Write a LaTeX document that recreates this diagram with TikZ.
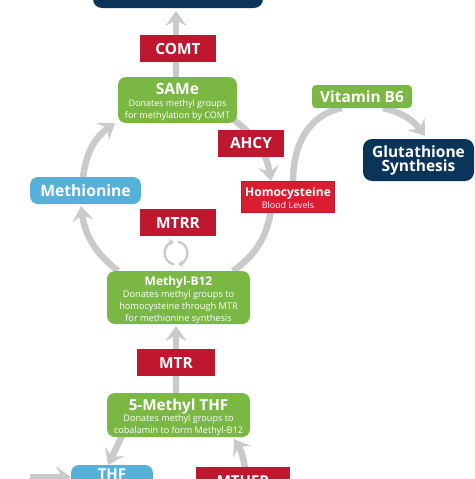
\documentclass[tikz,border=0pt]{standalone}
\usepackage{fontspec}
\setmainfont{Open Sans}
\usetikzlibrary{arrows.meta}
\definecolor{grn}{HTML}{7AB743}
\definecolor{blu}{HTML}{56B0D8}
\definecolor{enz}{HTML}{BF1730}
\definecolor{hcy}{HTML}{D91E32}
\definecolor{nvy}{HTML}{0B3558}
\definecolor{gry}{HTML}{C9CACC}
\newcommand{\fs}[2]{\fontsize{#1}{#2}\selectfont}
\tikzset{
 x=1pt,y=-1pt,
 box/.style={inner sep=0pt,text=white,align=center,anchor=center},
 enzyme/.style={box,fill=enz,font=\fs{15.4}{16}\bfseries},
 greenbox/.style={box,fill=grn,rounded corners=8pt},
 bluebox/.style={box,fill=blu,rounded corners=8pt,font=\fs{15.7}{17}\bfseries},
 navybox/.style={box,fill=nvy,rounded corners=9pt,font=\fs{15.5}{14}\bfseries},
 arr/.style={draw=gry,line width=6.5pt,-{Stealth[length=15pt,width=21pt,inset=6pt]}},
 plain/.style={draw=gry,line width=6.5pt},
 iconarc/.style={draw=gry,line width=2.4pt,-{Stealth[length=5pt,width=7.5pt,inset=1.5pt]}},
}
\begin{document}
\begin{tikzpicture}
\clip (0,0) rectangle (474,479);
% coordinates of free connector ends
\coordinate (topend) at (176,11);
\coordinate (vbL) at (342,108);
\coordinate (vbR) at (383,108);
\coordinate (hT) at (293,182);
\coordinate (gT) at (425,136);
\coordinate (sL) at (115,123);
\coordinate (sR) at (234,120);
\coordinate (hA) at (271,181);
\coordinate (mT) at (83,178);
\coordinate (mB) at (81,206);
\coordinate (bL) at (118,271);
\coordinate (bR) at (233,271);
\coordinate (hB) at (271,211);
\coordinate (sT) at (176,78);
\coordinate (mthT) at (176,393);
\coordinate (bB) at (176,326);
\coordinate (fL) at (122,436);
\coordinate (tT) at (108,465);
\coordinate (mfT) at (245,468);
\coordinate (fB) at (234,439);
\coordinate (tLs) at (30,477);
\coordinate (tLe) at (71,477);
% connectors
\draw[arr] (sT) -- (topend);
\draw[arr] (sR) to[bend left=22] (hA);
\draw[plain] (hB) to[bend left=22] (bR);
\draw[arr] (bL) to[bend left=22] (mB);
\draw[arr] (mT) to[bend left=24] (sL);
\draw[plain] (hT) .. controls (293,140) and (312,114) .. (vbL);
\draw[arr] (vbR) to[bend left=20] (gT);
\draw[arr] (mthT) -- (bB);
\draw[arr] (fL) -- (tT);
\draw[arr] (mfT) to[bend right=12] (fB);
\draw[arr] (tLs) -- (tLe);
% recycle icon
\begin{scope}[shift={(176,253)},y=1pt]
 \draw[iconarc] (-100:11.5) arc[start angle=-100,end angle=-260,radius=11.5];
 \draw[iconarc] (80:11.5) arc[start angle=80,end angle=-80,radius=11.5];
\end{scope}
% nodes
\node[navybox,minimum width=170pt,minimum height=30pt] (top) at (178,-7) {};
\node[enzyme,minimum width=76pt,minimum height=27pt] (comt) at (178,48.5) {COMT};
\node[greenbox,minimum width=119pt,minimum height=46pt] (same) at (177.5,100) {\fs{15.6}{17}\bfseries\rule{0pt}{15pt}SAMe\\[0pt]\fs{9}{13}\mdseries Donates methyl groups\\\fs{9}{13}\mdseries for methylation by COMT};
\node[enzyme,minimum width=66pt,minimum height=27pt] (ahcy) at (251,143) {AHCY};
\node[box,fill=hcy,draw=enz,line width=.8pt,minimum width=93pt,minimum height=31pt] (homo) at (288,196.5) {\fs{12}{12.5}\bfseries\rule{0pt}{13pt}Homocysteine\\\fs{9}{11.5}\mdseries Blood Levels};
\node[bluebox,minimum width=111pt,minimum height=27pt] (met) at (85.5,190.5) {Methionine};
\node[enzyme,minimum width=76pt,minimum height=27pt] (mtrr) at (178,222.5) {MTRR};
\node[box,fill=grn,rounded corners=4pt,minimum width=100pt,minimum height=23pt,font=\fs{15.4}{16}\bfseries] (vb) at (362,96.5) {Vitamin B6};
\node[navybox,minimum width=111pt,minimum height=42pt] (glu) at (418.5,160) {Glutathione\\Synthesis};
\node[greenbox,minimum width=143pt,minimum height=53pt] (b12) at (178.5,297.5) {\fs{12}{13}\bfseries\rule{0pt}{14pt}Methyl-B12\\[-.5pt]\fs{9.2}{11}\mdseries Donates methyl groups to\\\fs{9.2}{11}\mdseries homocysteine through MTR\\\fs{9.2}{11}\mdseries for methionine synthesis};
\node[enzyme,minimum width=78pt,minimum height=27pt] (mtr) at (176,362.5) {MTR};
\node[greenbox,minimum width=143pt,minimum height=44pt] (mth) at (178.5,415) {\fs{15.2}{15}\bfseries\rule{0pt}{16pt}5-Methyl THF\\[-.5pt]\fs{9.1}{11}\mdseries Donates methyl groups to\\\fs{9.1}{11}\mdseries cobalamin to form Methyl-B12};
\node[bluebox,minimum width=82pt,minimum height=30pt] (thf) at (112,480) {};
\node[box,font=\fs{15}{17}\bfseries] (thft) at (112,474) {THF};
\node[enzyme,minimum width=94pt,minimum height=27pt] (mthfr) at (243,480.5) {};
\node[box,font=\fs{15}{16}\bfseries] (mthfrt) at (243,481) {MTHFR};
\end{tikzpicture}
\end{document}
